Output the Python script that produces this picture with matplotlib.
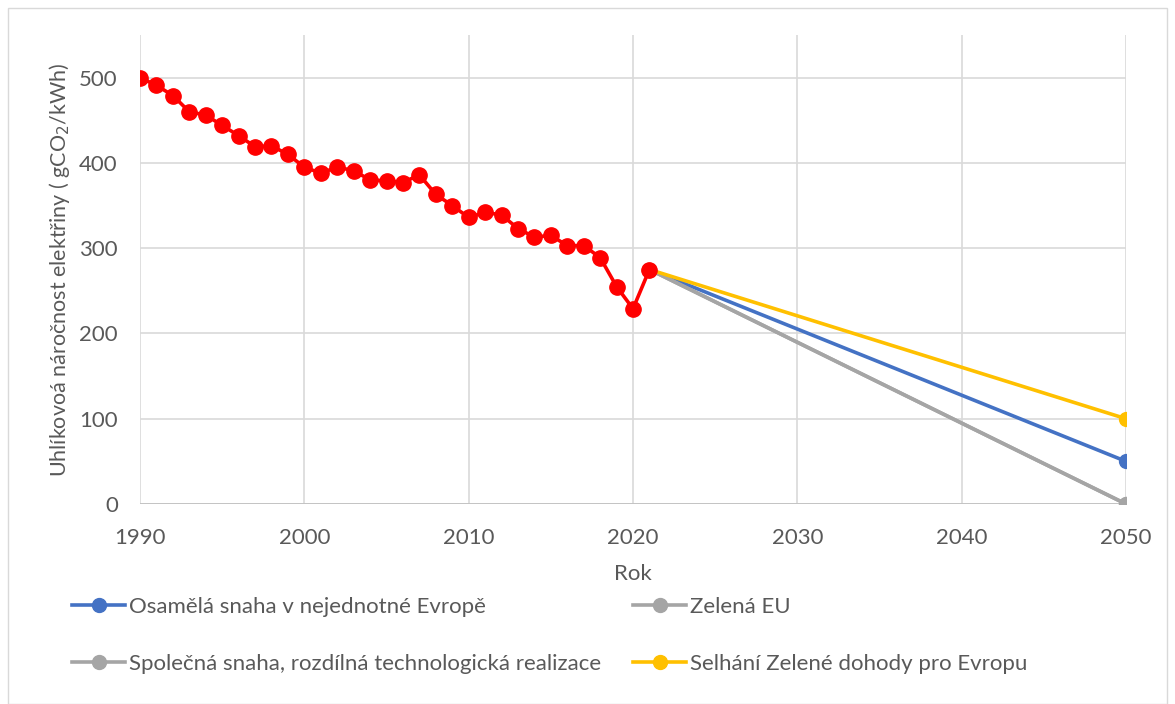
import numpy as np
import matplotlib.pyplot as plt
from matplotlib.patches import Rectangle

plt.rcParams['font.family'] = ['Lato', 'DejaVu Sans']

# historical data
years = list(range(1990, 2022))
intensity = [500, 491, 479, 460, 456, 444, 432, 419, 420, 410,
             395, 388, 395, 391, 380, 379, 377, 386, 363, 350,
             336, 342, 339, 323, 313, 315, 303, 303, 289, 255,
             229, 275]

# scenarios 2021 -> 2050
scen_years = [2021, 2050]
scen_osamela = [275, 50]
scen_zelena = [275, 0]
scen_spolecna = [275, 0]
scen_selhani = [275, 100]

TXT = "#595959"
BLUE = "#4472c4"
GRAY = "#a5a5a5"
YELLOW = "#ffc000"
RED = "#ff0000"

fig = plt.figure(figsize=(11.75, 7.04), dpi=100)
ax = fig.add_axes([140 / 1175, 1 - 504 / 704, (1126 - 140) / 1175, (504 - 35) / 704])

# chart-area border
fig.patches.append(Rectangle((8 / 1175, 0.0), 1 - 16 / 1175, 1 - 8 / 704,
                             transform=fig.transFigure, fill=False,
                             edgecolor="#d9d9d9", linewidth=1))

kw = dict(linewidth=2.6, marker="o", markersize=10, zorder=3)
ax.plot(scen_years, scen_osamela, color=BLUE, label="Osamělá snaha v nejednotné Evropě", **kw)
ax.plot(scen_years, scen_spolecna, color=GRAY, label="Společná snaha, rozdílná technologická realizace", **kw)
ax.plot(scen_years, scen_zelena, color=GRAY, label="Zelená EU", **kw)
ax.plot(scen_years, scen_selhani, color=YELLOW, label="Selhání Zelené dohody pro Evropu", **kw)
ax.plot(years, intensity, color=RED, linewidth=2.6, marker="o", markersize=11, zorder=4)

ax.set_xlim(1990, 2050)
ax.set_ylim(0, 550)
ax.set_xticks(np.arange(1990, 2051, 10))
ax.set_yticks(np.arange(0, 501, 100))
ax.grid(True, color="#d9d9d9", linewidth=1.2)
ax.set_axisbelow(True)
for s in ax.spines.values():
    s.set_visible(False)
ax.axhline(0, color="#bfbfbf", linewidth=1.2, zorder=1)
ax.tick_params(axis="x", length=0, labelsize=16, colors=TXT, pad=17)
ax.tick_params(axis="y", length=0, labelsize=16, colors=TXT, pad=16)

ax.set_xlabel("Rok", fontsize=16, color=TXT, labelpad=12)
ax.set_ylabel("Uhlíkovoá náročnost elektřiny ( gCO$_2$/kWh)", fontsize=15.5, color=TXT, labelpad=5)

leg = fig.legend(loc="upper left", bbox_to_anchor=(52 / 1175, 1 - 577 / 704), ncol=2,
                 frameon=False, fontsize=16, labelcolor=TXT, handlelength=2.4,
                 handletextpad=0.15, columnspacing=1.45, labelspacing=1.65)

fig.savefig("out.png", dpi=100)
